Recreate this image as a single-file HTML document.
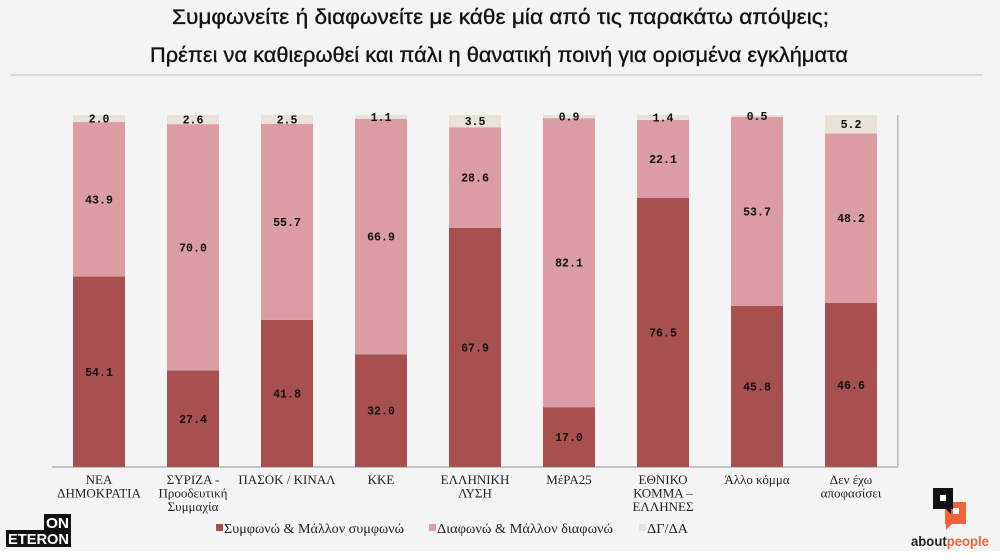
<!DOCTYPE html>
<html>
<head>
<meta charset="utf-8">
<style>
  html,body{margin:0;padding:0;background:#f4f4f4;}
  svg{display:block;}
  .t{font-family:"Liberation Sans","Noto Sans CJK SC",sans-serif;fill:#111;}
  .v{font-family:"Liberation Mono",monospace;font-weight:bold;font-size:11.6px;fill:#111;text-anchor:middle;}
  .x{font-family:"Liberation Serif","Noto Serif CJK SC",serif;font-size:13px;fill:#222;text-anchor:middle;}
  .lg{font-family:"Liberation Serif","Noto Serif CJK SC",serif;font-size:14px;fill:#222;}
</style>
</head>
<body>
<svg width="1000" height="560" viewBox="0 0 1000 560" xmlns="http://www.w3.org/2000/svg">
  <rect x="0" y="0" width="1000" height="560" fill="#f4f4f4"/>
  <rect x="0" y="551" width="1000" height="9" fill="#ffffff"/>

  <!-- Title -->
  <text class="t" x="172" y="24" font-size="21.5" stroke="#111" stroke-width="0.35" textLength="657" lengthAdjust="spacingAndGlyphs">Συμφωνείτε ή διαφωνείτε με κάθε μία από τις παρακάτω απόψεις;</text>
  <text class="t" x="150" y="62" font-size="21.5" stroke="#111" stroke-width="0.35" textLength="698" lengthAdjust="spacingAndGlyphs">Πρέπει να καθιερωθεί και πάλι η θανατική ποινή για ορισμένα εγκλήματα</text>
  <rect x="11" y="74" width="972" height="2" fill="#d9d9d9"/>

  <!-- axes -->
  <rect x="897" y="115" width="1.5" height="352" fill="#bdbdbd"/>
  <rect x="52" y="466" width="846" height="2" fill="#c4c4c4"/>

  <!-- Bars -->
  <g>
    <rect x="73" y="276.57" width="52" height="190.43" fill="#a85050"/>
    <rect x="73" y="122.04" width="52" height="154.53" fill="#dc9ca4"/>
    <rect x="73" y="115" width="52" height="7.04" fill="#e8e2da"/>

    <rect x="167" y="370.55" width="52" height="96.45" fill="#a85050"/>
    <rect x="167" y="124.15" width="52" height="246.4" fill="#dc9ca4"/>
    <rect x="167" y="115" width="52" height="9.15" fill="#e8e2da"/>

    <rect x="261" y="319.86" width="52" height="147.14" fill="#a85050"/>
    <rect x="261" y="123.8" width="52" height="196.06" fill="#dc9ca4"/>
    <rect x="261" y="115" width="52" height="8.8" fill="#e8e2da"/>

    <rect x="355" y="354.36" width="52" height="112.64" fill="#a85050"/>
    <rect x="355" y="118.87" width="52" height="235.49" fill="#dc9ca4"/>
    <rect x="355" y="115" width="52" height="3.87" fill="#e8e2da"/>

    <rect x="449" y="227.99" width="52" height="239.01" fill="#a85050"/>
    <rect x="449" y="127.32" width="52" height="100.67" fill="#dc9ca4"/>
    <rect x="449" y="115" width="52" height="12.32" fill="#e8e2da"/>

    <rect x="543" y="407.16" width="52" height="59.84" fill="#a85050"/>
    <rect x="543" y="118.17" width="52" height="288.99" fill="#dc9ca4"/>
    <rect x="543" y="115" width="52" height="3.17" fill="#e8e2da"/>

    <rect x="637" y="197.72" width="52" height="269.28" fill="#a85050"/>
    <rect x="637" y="119.93" width="52" height="77.79" fill="#dc9ca4"/>
    <rect x="637" y="115" width="52" height="4.93" fill="#e8e2da"/>

    <rect x="731" y="305.78" width="52" height="161.22" fill="#a85050"/>
    <rect x="731" y="116.76" width="52" height="189.02" fill="#dc9ca4"/>
    <rect x="731" y="115" width="52" height="1.76" fill="#e8e2da"/>

    <rect x="825" y="302.97" width="52" height="164.03" fill="#a85050"/>
    <rect x="825" y="133.31" width="52" height="169.66" fill="#dc9ca4"/>
    <rect x="825" y="115" width="52" height="18.31" fill="#e8e2da"/>
  </g>

  <!-- Value labels -->
  <g>
    <text class="v" x="99" y="375.8">54.1</text>
    <text class="v" x="99" y="203.3">43.9</text>
    <text class="v" x="99" y="122.5">2.0</text>

    <text class="v" x="193" y="422.8">27.4</text>
    <text class="v" x="193" y="251.3">70.0</text>
    <text class="v" x="193" y="123.6">2.6</text>

    <text class="v" x="287" y="397.4">41.8</text>
    <text class="v" x="287" y="225.8">55.7</text>
    <text class="v" x="287" y="123.4">2.5</text>

    <text class="v" x="381" y="414.7">32.0</text>
    <text class="v" x="381" y="240.6">66.9</text>
    <text class="v" x="381" y="120.9">1.1</text>

    <text class="v" x="475" y="351.5">67.9</text>
    <text class="v" x="475" y="181.7">28.6</text>
    <text class="v" x="475" y="125.2">3.5</text>

    <text class="v" x="569" y="441.1">17.0</text>
    <text class="v" x="569" y="266.7">82.1</text>
    <text class="v" x="569" y="120.6">0.9</text>

    <text class="v" x="663" y="336.4">76.5</text>
    <text class="v" x="663" y="162.8">22.1</text>
    <text class="v" x="663" y="121.5">1.4</text>

    <text class="v" x="757" y="390.4">45.8</text>
    <text class="v" x="757" y="215.3">53.7</text>
    <text class="v" x="757" y="119.9">0.5</text>

    <text class="v" x="851" y="389.0">46.6</text>
    <text class="v" x="851" y="222.1">48.2</text>
    <text class="v" x="851" y="128.2">5.2</text>
  </g>

  <!-- X labels -->
  <g>
    <text class="x" x="99" y="484">ΝΕΑ</text>
    <text class="x" x="99" y="497.5">ΔΗΜΟΚΡΑΤΙΑ</text>

    <text class="x" x="193" y="484">ΣΥΡΙΖΑ -</text>
    <text class="x" x="193" y="497.5">Προοδευτική</text>
    <text class="x" x="193" y="511">Συμμαχία</text>

    <text class="x" x="287" y="484">ΠΑΣΟΚ / ΚΙΝΑΛ</text>

    <text class="x" x="381" y="484">ΚΚΕ</text>

    <text class="x" x="475" y="484">ΕΛΛΗΝΙΚΗ</text>
    <text class="x" x="475" y="497.5">ΛΥΣΗ</text>

    <text class="x" x="569" y="484">ΜέΡΑ25</text>

    <text class="x" x="663" y="484">ΕΘΝΙΚΟ</text>
    <text class="x" x="663" y="497.5">ΚΟΜΜΑ –</text>
    <text class="x" x="663" y="511">ΕΛΛΗΝΕΣ</text>

    <text class="x" x="757" y="484">Άλλο κόμμα</text>

    <text class="x" x="851" y="484">Δεν έχω</text>
    <text class="x" x="851" y="497.5">αποφασίσει</text>
  </g>

  <!-- Legend -->
  <g>
    <rect x="216" y="524" width="7" height="7" fill="#a85050"/>
    <text class="lg" x="224" y="533" textLength="180" lengthAdjust="spacingAndGlyphs">Συμφωνώ &amp; Μάλλον συμφωνώ</text>
    <rect x="429" y="524" width="7" height="7" fill="#dc9ca4"/>
    <text class="lg" x="437" y="533" textLength="176" lengthAdjust="spacingAndGlyphs">Διαφωνώ &amp; Μάλλον διαφωνώ</text>
    <rect x="639" y="524" width="7" height="7" fill="#e8e2da"/>
    <text class="lg" x="647" y="533" textLength="41" lengthAdjust="spacingAndGlyphs">ΔΓ/ΔΑ</text>
  </g>

  <!-- ON ETERON logo -->
  <g>
    <rect x="44" y="514" width="27" height="17" fill="#111"/>
    <rect x="6" y="530" width="65" height="17" fill="#111"/>
    <text x="46" y="528" font-family="Liberation Sans, sans-serif" font-weight="bold" font-size="15" fill="#fff" textLength="23" lengthAdjust="spacingAndGlyphs">ON</text>
    <text x="8" y="544" font-family="Liberation Sans, sans-serif" font-weight="bold" font-size="15" fill="#fff" textLength="61" lengthAdjust="spacingAndGlyphs">ETERON</text>
  </g>

  <!-- aboutpeople logo -->
  <g>
    <path d="M945 502 H966 V524 H952 L946 530 V524 H945 Z" fill="#f0633c"/>
    <path d="M933 488 H953 V509 H951 V514 L946 509 H933 Z" fill="#111"/>
    <rect x="940" y="495" width="6" height="6" fill="#fff"/>
    <rect x="953" y="508" width="6" height="6" fill="#fff"/>
    <text x="911" y="546" font-family="Liberation Sans, sans-serif" font-weight="bold" font-size="14" textLength="78" lengthAdjust="spacingAndGlyphs"><tspan fill="#222">about</tspan><tspan fill="#f0633c">people</tspan></text>
  </g>
</svg>
</body>
</html>
